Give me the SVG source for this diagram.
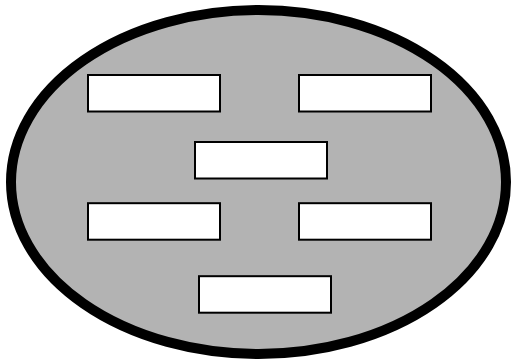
<svg xmlns="http://www.w3.org/2000/svg" width="513" height="360" viewBox="0 0 513 360">
<style>
.box{fill:#ffffff;stroke:#000000;stroke-width:2}
</style>
<rect x="0" y="0" width="513" height="360" fill="#ffffff"/>
<g id="container">
<ellipse cx="258.5" cy="182" rx="247.5" ry="172" fill="#b3b3b3" stroke="#000000" stroke-width="10"/>
</g>
<g id="node1"><rect class="box" x="88" y="75" width="132" height="36.5"/></g>
<g id="node2"><rect class="box" x="299" y="75" width="132" height="36.5"/></g>
<g id="node3"><rect class="box" x="195" y="142" width="132" height="36.5"/></g>
<g id="node4"><rect class="box" x="88" y="203.2" width="132" height="36.5"/></g>
<g id="node5"><rect class="box" x="299" y="203.2" width="132" height="36.5"/></g>
<g id="node6"><rect class="box" x="199" y="276.2" width="132" height="36.5"/></g>
<g id="connectors"></g>
</svg>
